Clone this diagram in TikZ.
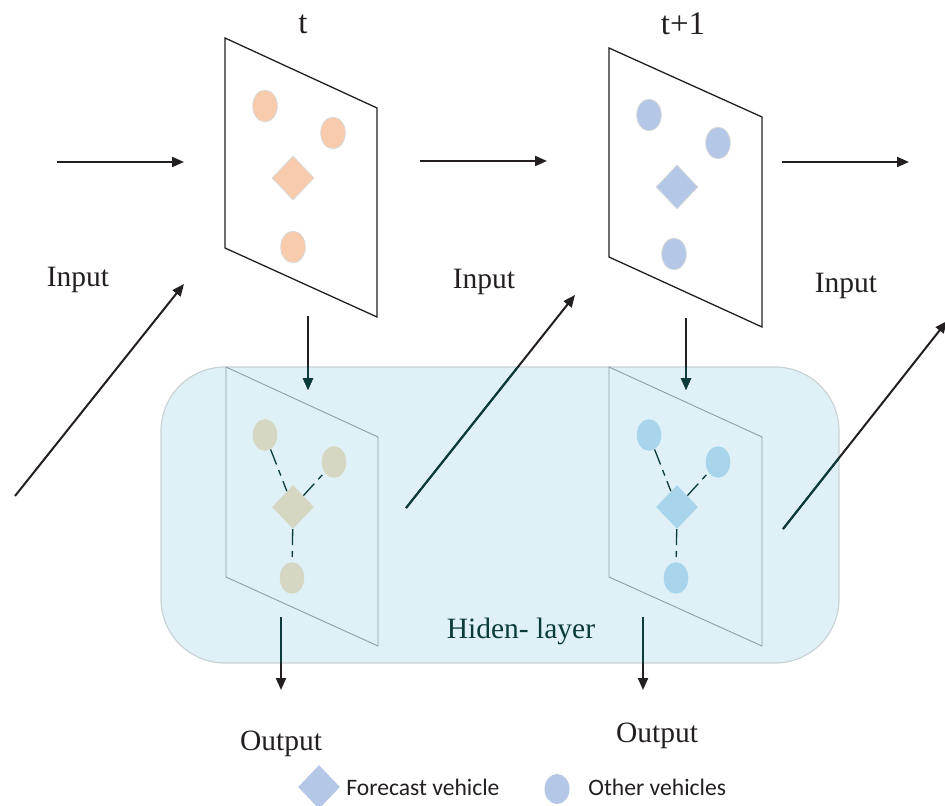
\documentclass[tikz,border=0pt]{standalone}
\usepackage{fontspec}
\setmainfont{Liberation Serif}
\newfontfamily\legfont{Carlito}
\usetikzlibrary{shapes.geometric,arrows.meta}
\definecolor{ink}{HTML}{231F20}
\definecolor{teal2}{HTML}{0B3B3A}
\definecolor{peach}{HTML}{F8CBAD}
\definecolor{lblue}{HTML}{B4C7E7}
\definecolor{olive}{HTML}{D5D7C3}
\definecolor{sky}{HTML}{A8D5EC}
\definecolor{boxfill}{HTML}{DFF1F7}
\definecolor{boxline}{HTML}{C9D2D5}
\definecolor{pgray}{HTML}{8E9FA4}
\definecolor{vline}{HTML}{D9D9D9}
\begin{document}
\begin{tikzpicture}[x=0.5pt,y=-0.5pt,
  lbl/.style={font=\fontsize{14.75}{16}\selectfont, text=ink, inner sep=0, anchor=base},
  tlbl/.style={font=\fontsize{16.5}{18}\selectfont, text=ink, inner sep=0, anchor=base},
  panel/.style={draw=ink, line width=0.65pt},
  hpanel/.style={draw=pgray, line width=0.45pt},
  veh/.style={ellipse, minimum width=12.3pt, minimum height=15.8pt, inner sep=0},
  fveh/.style={diamond, minimum width=21pt, minimum height=22pt, inner sep=0},
  topveh/.style={draw=vline, line width=0.4pt},
  link/.style={draw=teal2, line width=0.65pt, dash pattern=on 8pt off 3pt on 3pt off 3pt},
  arr/.style={draw=ink, line width=1pt, -{Triangle[length=6pt,width=5pt]}},
  tarr/.style={draw=teal2, line width=1pt, -{Triangle[length=6pt,width=5pt]}},
  tline/.style={draw=teal2, line width=1pt},
  boxshape/.style={rounded corners=32pt},
]
\useasboundingbox (0,0) rectangle (945,806);

% hidden layer box
\draw[boxshape, fill=boxfill, draw=boxline, line width=0.6pt] (161,367) rectangle (839,663);

% hidden panels
\draw[hpanel] (226,367) -- (378,437) -- (378,646) -- (226,577) -- cycle;
\draw[hpanel] (609,367) -- (762,437) -- (762,646) -- (609,577) -- cycle;

% hidden vehicles (left)
\node[veh, fill=olive] (hl1) at (265,435) {};
\node[veh, fill=olive] (hl2) at (334,462) {};
\node[fveh, fill=olive] (hlf) at (293,507) {};
\node[veh, fill=olive] (hl3) at (292,578) {};
\draw[link] (hl1) -- (hlf);
\draw[link] (hlf) -- (hl2);
\draw[link] (hlf) -- (hl3);

% hidden vehicles (right)
\node[veh, fill=sky] (hr1) at (649,435) {};
\node[veh, fill=sky] (hr2) at (718,462) {};
\node[fveh, fill=sky] (hrf) at (677,507) {};
\node[veh, fill=sky] (hr3) at (676,578) {};
\draw[link] (hr1) -- (hrf);
\draw[link] (hrf) -- (hr2);
\draw[link] (hrf) -- (hr3);

% top panels
\draw[panel] (225,38) -- (377,108) -- (377,317) -- (225,248) -- cycle;
\draw[panel] (609,48) -- (762,117) -- (762,327) -- (609,257) -- cycle;

\node[veh, topveh, fill=peach] (tl1) at (265,106) {};
\node[veh, topveh, fill=peach] (tl2) at (333,133) {};
\node[fveh, topveh, fill=peach] (tlf) at (293,178) {};
\node[veh, topveh, fill=peach] (tl3) at (293,247) {};

\node[veh, topveh, fill=lblue] (tr1) at (649,115) {};
\node[veh, topveh, fill=lblue] (tr2) at (718,143) {};
\node[fveh, topveh, fill=lblue] (trf) at (677,187) {};
\node[veh, topveh, fill=lblue] (tr3) at (674,254) {};

% arrow end points
\coordinate (a1s) at (57,162);  \coordinate (a1e) at (184,162);
\coordinate (a2s) at (420,161); \coordinate (a2e) at (547,161);
\coordinate (a3s) at (782,162); \coordinate (a3e) at (909,162);
\coordinate (d1s) at (15,496);  \coordinate (d1e) at (184,284);
\coordinate (d2s) at (406,508); \coordinate (d2e) at (575,295);
\coordinate (d3s) at (783,529); \coordinate (d3e) at (947,321);
\coordinate (v1s) at (308,316); \coordinate (v1e) at (308,390);
\coordinate (v2s) at (686,318); \coordinate (v2e) at (686,390);
\coordinate (o1s) at (281,617); \coordinate (o1e) at (281,690);
\coordinate (o2s) at (643,617); \coordinate (o2e) at (643,690);

\draw[arr] (a1s) -- (a1e);
\draw[arr] (a2s) -- (a2e);
\draw[arr] (a3s) -- (a3e);
\draw[arr] (d1s) -- (d1e);
\draw[arr] (d2s) -- (d2e);
\draw[arr] (d3s) -- (d3e);
\draw[arr] (v1s) -- (v1e);
\draw[arr] (v2s) -- (v2e);
\draw[arr] (o1s) -- (o1e);
\draw[arr] (o2s) -- (o2e);

% parts inside the hidden box appear teal
\begin{scope}
\clip[boxshape] (161,367) rectangle (839,663);
\draw[tline] (d2s) -- (d2e);
\draw[tline] (d3s) -- (d3e);
\draw[tarr] (v1s) -- (v1e);
\draw[tarr] (v2s) -- (v2e);
\draw[tline] (o1s) -- (o1e);
\draw[tline] (o2s) -- (o2e);
\end{scope}

% labels
\node[tlbl] (lt) at (303,34) {t};
\node[tlbl] (lt1) at (683,35) {t+1};
\node[lbl] (in1) at (78,287) {Input};
\node[lbl] (in2) at (484,289) {Input};
\node[lbl] (in3) at (846,293) {Input};
\node[lbl] (out1) at (281,750) {Output};
\node[lbl] (out2) at (657,742) {Output};
\node[lbl, text=teal2] (hid) at (521,638) {Hiden- layer};

% legend
\node[fveh, fill=lblue, minimum width=21pt, minimum height=22pt] (legf) at (319,787) {};
\node[anchor=base west, inner sep=0, font=\legfont\fontsize{11.8}{13}\selectfont, text=ink] (legft) at (346,795) {Forecast vehicle};
\node[veh, fill=lblue, minimum width=12.5pt, minimum height=15pt] (lego) at (557,789) {};
\node[anchor=base west, inner sep=0, font=\legfont\fontsize{11.8}{13}\selectfont, text=ink] (legot) at (588,795) {Other vehicles};
\end{tikzpicture}
\end{document}
